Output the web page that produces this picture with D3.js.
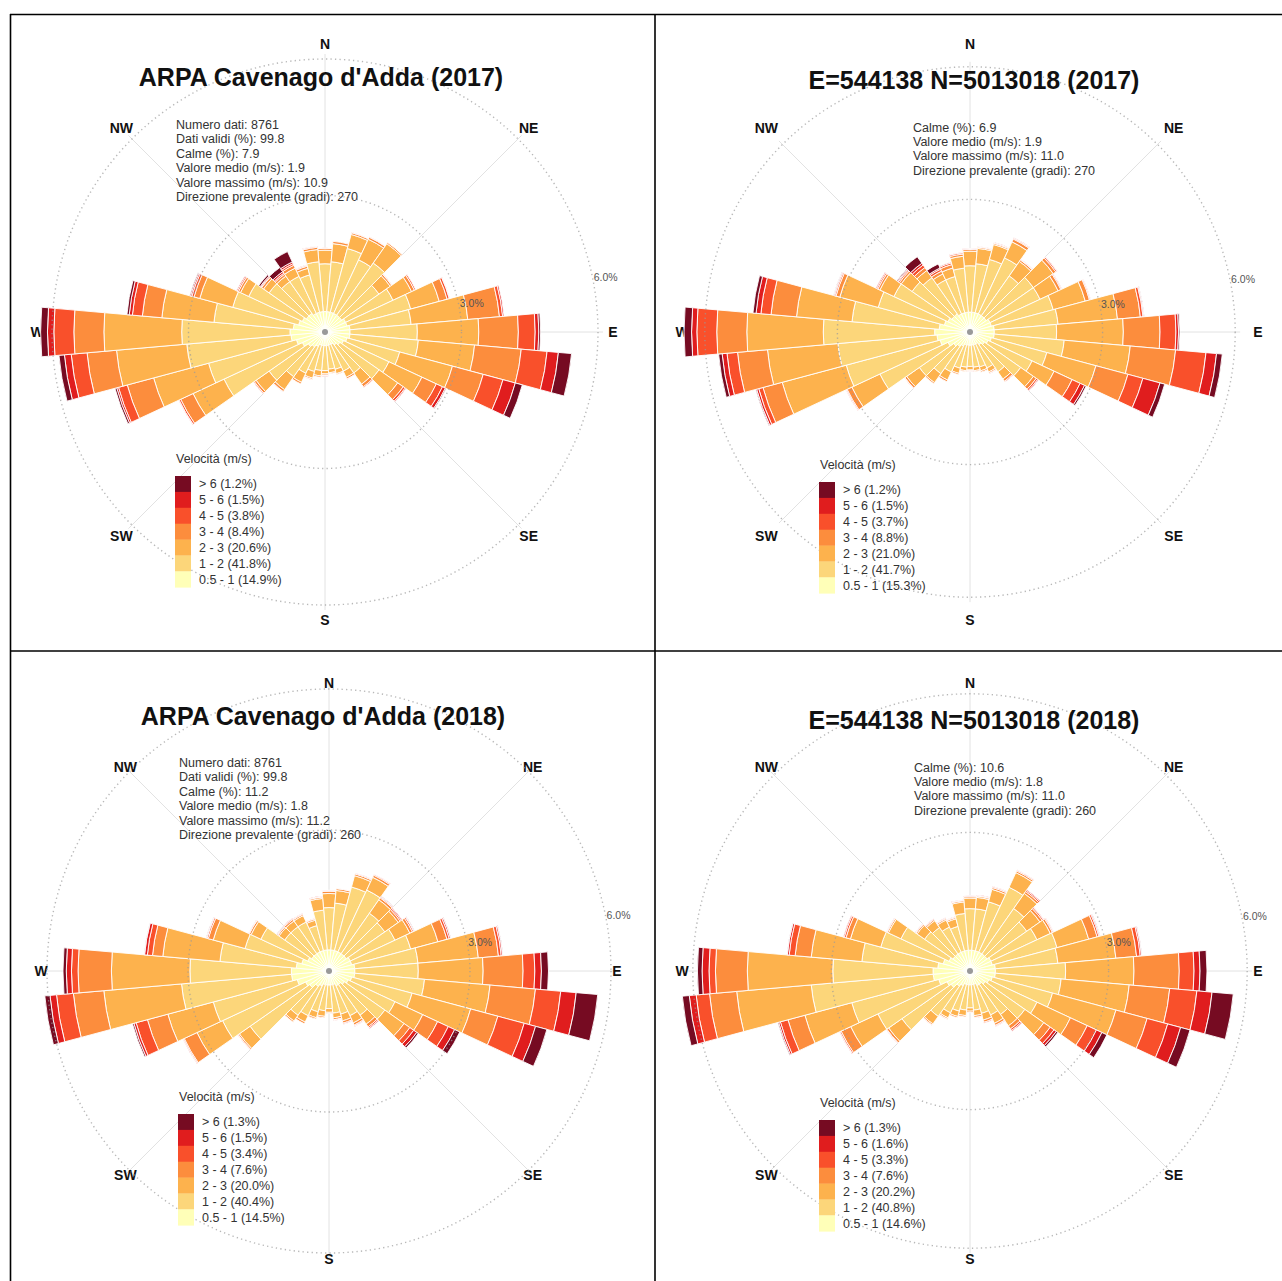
<!DOCTYPE html>
<html><head><meta charset="utf-8">
<script src="https://cdn.jsdelivr.net/npm/d3@7"></script>
<style>
body{margin:0;background:#fff}
svg{display:block}
text{font-family:"Liberation Sans",Arial,Helvetica,sans-serif}
</style>
</head><body><svg id="c" width="1282" height="1281"></svg>
<script>
// ---------------- DATA ----------------
const directions = d3.range(0, 360, 10);           // bin centres (degrees)
const speedClasses = ["0.5 - 1", "1 - 2", "2 - 3", "3 - 4", "4 - 5", "5 - 6", "> 6"];
const compassLabels = ["N", "NE", "E", "SE", "S", "SW", "W", "NW"];
const gridPct = [3, 6];

const titles = [
  "ARPA Cavenago d'Adda (2017)",
  "E=544138 N=5013018 (2017)",
  "ARPA Cavenago d'Adda (2018)",
  "E=544138 N=5013018 (2018)"
];
const legendTitle = "Velocità (m/s)";

const stats2017Arpa = ["Numero dati: 8761", "Dati validi (%): 99.8", "Calme (%): 7.9",
  "Valore medio (m/s): 1.9", "Valore massimo (m/s): 10.9", "Direzione prevalente (gradi): 270"];
const stats2017Grid = ["Calme (%): 6.9", "Valore medio (m/s): 1.9",
  "Valore massimo (m/s): 11.0", "Direzione prevalente (gradi): 270"];
const stats2018Arpa = ["Numero dati: 8761", "Dati validi (%): 99.8", "Calme (%): 11.2",
  "Valore medio (m/s): 1.8", "Valore massimo (m/s): 11.2", "Direzione prevalente (gradi): 260"];
const stats2018Grid = ["Calme (%): 10.6", "Valore medio (m/s): 1.8",
  "Valore massimo (m/s): 11.0", "Direzione prevalente (gradi): 260"];

// class share (%) in order 0.5-1 ... >6
const classPct2017Arpa = [14.9, 41.8, 20.6, 8.4, 3.8, 1.5, 1.2];
const classPct2017Grid = [15.3, 41.7, 21.0, 8.8, 3.7, 1.5, 1.2];
const classPct2018Arpa = [14.5, 40.4, 20.0, 7.6, 3.4, 1.5, 1.3];
const classPct2018Grid = [14.6, 40.8, 20.2, 7.6, 3.3, 1.6, 1.3];

// cumulative frequency (%) at the top of each speed class, one row per direction 0..350
const cum2017Arpa = [
  [0.45,1.5,1.8,1.84,1.85,1.85,1.85],[0.45,1.55,1.95,2.0,2.0,2.0,2.0],
  [0.45,1.9,2.22,2.26,2.27,2.27,2.27],[0.45,1.75,2.25,2.3,2.31,2.31,2.31],
  [0.45,1.85,2.37,2.4,2.4,2.4,2.4],[0.45,1.45,1.75,1.79,1.8,1.8,1.8],
  [0.5,1.65,2.1,2.17,2.2,2.2,2.2],[0.5,1.95,2.6,2.78,2.83,2.84,2.84],
  [0.55,1.9,3.15,3.85,3.92,3.95,3.95],[0.55,2.03,3.38,4.25,4.62,4.7,4.74],
  [0.55,2.06,3.3,4.33,4.9,5.15,5.44],[0.5,1.7,2.9,3.6,4.05,4.33,4.49],
  [0.45,1.55,2.35,2.7,2.85,2.92,2.94],[0.4,1.45,1.95,2.1,2.15,2.17,2.17],
  [0.35,1.1,1.4,1.47,1.49,1.49,1.49],[0.3,0.95,1.1,1.14,1.15,1.15,1.15],
  [0.3,0.85,0.95,0.97,0.97,0.97,0.97],[0.3,0.82,0.9,0.92,0.92,0.92,0.92],
  [0.3,0.85,0.92,0.95,0.96,0.97,0.97],[0.3,0.85,0.97,1.0,1.0,1.0,1.0],
  [0.3,0.9,1.05,1.08,1.09,1.09,1.09],[0.35,1.0,1.22,1.26,1.26,1.26,1.26],
  [0.4,1.2,1.55,1.6,1.61,1.61,1.61],[0.45,1.5,1.85,1.9,1.92,1.92,1.92],
  [0.55,2.45,3.2,3.5,3.54,3.55,3.55],[0.65,2.65,3.9,4.5,4.7,4.74,4.78],
  [0.75,3.05,4.6,5.25,5.6,5.75,5.87],[0.77,3.15,4.86,5.52,5.96,6.1,6.25],
  [0.7,2.45,3.6,4.03,4.25,4.32,4.37],[0.6,2.1,2.85,2.98,3.03,3.06,3.08],
  [0.55,1.85,2.05,2.1,2.13,2.15,2.15],[0.5,1.5,1.65,1.7,1.72,1.74,1.78],
  [0.5,1.35,1.5,1.55,1.58,1.62,1.73],[0.45,1.35,1.55,1.62,1.66,1.7,1.95],
  [0.45,1.3,1.45,1.5,1.52,1.53,1.53],[0.45,1.55,1.82,1.87,1.89,1.9,1.9]
];
const cum2017Grid = [
  [0.45,1.5,1.83,1.87,1.88,1.89,1.89],[0.45,1.55,1.9,1.93,1.94,1.95,1.95],
  [0.45,1.7,2.05,2.08,2.09,2.1,2.1],[0.45,1.85,2.25,2.32,2.34,2.35,2.35],
  [0.45,1.55,1.95,1.99,2.0,2.01,2.01],[0.45,1.75,2.3,2.37,2.4,2.41,2.41],
  [0.5,1.75,2.2,2.27,2.29,2.3,2.3],[0.5,1.95,2.7,2.8,2.82,2.83,2.83],
  [0.55,2.0,3.35,3.87,3.93,3.95,3.96],[0.55,1.96,3.47,4.3,4.66,4.72,4.75],
  [0.55,2.14,3.64,4.67,5.36,5.6,5.73],[0.5,1.8,2.95,3.7,4.05,4.45,4.56],
  [0.45,1.55,2.1,2.55,2.75,2.86,2.9],[0.4,1.4,1.75,1.83,1.87,1.89,1.89],
  [0.35,1.1,1.3,1.36,1.38,1.38,1.38],[0.3,0.9,1.0,1.03,1.04,1.04,1.04],
  [0.3,0.82,0.91,0.94,0.94,0.94,0.94],[0.3,0.8,0.88,0.9,0.9,0.9,0.9],
  [0.3,0.78,0.86,0.88,0.89,0.9,0.9],[0.3,0.8,0.88,0.9,0.9,0.9,0.9],
  [0.3,0.85,0.97,1.0,1.0,1.0,1.0],[0.35,1.0,1.2,1.24,1.24,1.24,1.24],
  [0.4,1.15,1.4,1.43,1.43,1.43,1.43],[0.45,1.4,1.75,1.8,1.81,1.81,1.81],
  [0.55,2.25,2.95,3.07,3.09,3.1,3.1],[0.7,2.9,4.4,4.85,4.95,5.0,5.02],
  [0.75,3.0,4.6,5.28,5.52,5.63,5.71],[0.8,3.32,5.05,5.73,6.18,6.3,6.47],
  [0.7,2.68,3.94,4.52,4.75,4.86,4.93],[0.6,2.15,3.05,3.14,3.17,3.19,3.2],
  [0.55,1.9,2.25,2.3,2.33,2.35,2.35],[0.5,1.6,1.9,1.95,1.98,2.0,2.02],
  [0.5,1.5,1.7,1.78,1.85,1.9,2.08],[0.45,1.3,1.45,1.52,1.57,1.6,1.7],
  [0.45,1.3,1.5,1.58,1.62,1.64,1.64],[0.45,1.45,1.72,1.77,1.8,1.81,1.81]
];
const cum2018Arpa = [
  [0.45,1.35,1.65,1.7,1.71,1.72,1.72],[0.45,1.45,1.72,1.76,1.77,1.77,1.77],
  [0.45,1.85,2.1,2.14,2.15,2.16,2.16],[0.45,1.9,2.2,2.25,2.27,2.28,2.28],
  [0.45,1.5,1.85,1.9,1.92,1.93,1.94],[0.45,1.45,1.8,1.85,1.88,1.9,1.9],
  [0.5,1.55,1.9,1.96,1.99,2.0,2.01],[0.5,1.8,2.4,2.6,2.65,2.68,2.69],
  [0.55,1.9,3.19,3.62,3.68,3.71,3.72],[0.55,1.9,3.28,4.13,4.38,4.52,4.67],
  [0.55,2.04,3.44,4.41,4.95,5.28,5.74],[0.5,1.83,3.12,3.72,4.3,4.55,4.8],
  [0.45,1.55,2.2,2.55,2.8,2.95,3.07],[0.4,1.45,1.95,2.1,2.2,2.28,2.32],
  [0.35,1.15,1.38,1.45,1.48,1.5,1.5],[0.35,1.05,1.22,1.27,1.29,1.3,1.3],
  [0.3,0.95,1.1,1.15,1.17,1.18,1.18],[0.3,0.9,1.0,1.04,1.05,1.06,1.06],
  [0.3,0.8,0.88,0.9,0.9,0.9,0.9],[0.3,0.85,0.97,1.0,1.0,1.0,1.0],
  [0.3,0.9,1.03,1.06,1.06,1.06,1.06],[0.35,1.05,1.2,1.24,1.24,1.24,1.24],
  [0.4,1.15,1.3,1.33,1.33,1.33,1.33],[0.5,2.05,2.33,2.36,2.37,2.37,2.37],
  [0.55,2.5,3.1,3.4,3.42,3.43,3.43],[0.7,2.55,3.55,4.0,4.25,4.3,4.33],
  [0.8,3.15,4.81,5.46,5.82,5.96,6.07],[0.8,2.96,4.63,5.34,5.48,5.59,5.66],
  [0.7,2.33,3.55,3.77,3.88,3.94,3.95],[0.6,1.85,2.55,2.66,2.69,2.7,2.71],
  [0.5,1.6,1.83,1.87,1.88,1.89,1.89],[0.45,1.15,1.3,1.33,1.34,1.35,1.36],
  [0.45,1.15,1.3,1.34,1.36,1.37,1.37],[0.45,1.15,1.3,1.33,1.34,1.35,1.35],
  [0.45,1.0,1.12,1.15,1.16,1.16,1.16],[0.45,1.3,1.55,1.58,1.59,1.6,1.6]
];
const cum2018Grid = [
  [0.45,1.35,1.58,1.61,1.62,1.63,1.63],[0.45,1.35,1.6,1.63,1.64,1.65,1.65],
  [0.45,1.55,1.83,1.87,1.89,1.9,1.9],[0.45,2.0,2.35,2.39,2.41,2.42,2.42],
  [0.45,1.65,2.05,2.1,2.13,2.15,2.15],[0.45,1.5,1.85,1.91,1.94,1.95,1.95],
  [0.5,1.6,1.92,1.97,1.99,2.0,2.0],[0.5,1.95,2.66,2.85,2.89,2.91,2.92],
  [0.55,1.91,3.17,3.62,3.7,3.73,3.74],[0.55,2.07,3.55,4.53,4.85,4.98,5.13],
  [0.55,1.98,3.46,4.34,4.93,5.26,5.72],[0.5,1.85,3.27,3.97,4.43,4.72,4.93],
  [0.45,1.6,2.4,2.8,3.02,3.15,3.27],[0.4,1.45,1.95,2.12,2.22,2.28,2.32],
  [0.35,1.15,1.45,1.53,1.57,1.59,1.59],[0.35,1.05,1.25,1.3,1.32,1.33,1.33],
  [0.3,0.95,1.1,1.15,1.17,1.17,1.17],[0.3,0.85,0.97,1.01,1.02,1.02,1.02],
  [0.3,0.8,0.87,0.9,0.9,0.9,0.9],[0.3,0.85,0.97,1.0,1.0,1.0,1.0],
  [0.3,0.9,1.02,1.05,1.05,1.05,1.05],[0.35,1.0,1.12,1.15,1.16,1.16,1.16],
  [0.4,1.2,1.4,1.43,1.44,1.44,1.44],[0.5,1.8,2.15,2.2,2.21,2.22,2.22],
  [0.55,2.2,2.85,3.08,3.11,3.12,3.12],[0.7,2.65,3.7,4.08,4.25,4.29,4.31],
  [0.8,3.45,5.07,5.66,5.95,6.1,6.25],[0.8,2.97,4.82,5.51,5.65,5.8,5.9],
  [0.7,2.35,3.45,3.8,3.93,3.97,3.98],[0.6,2.0,2.68,2.78,2.82,2.84,2.84],
  [0.5,1.65,1.95,1.98,1.99,2.0,2.0],[0.45,1.2,1.4,1.43,1.44,1.45,1.45],
  [0.45,1.15,1.33,1.36,1.37,1.38,1.38],[0.45,1.05,1.22,1.25,1.26,1.27,1.27],
  [0.45,1.0,1.17,1.2,1.21,1.22,1.22],[0.45,1.25,1.5,1.53,1.54,1.55,1.55]
];

// ---------------- STYLE / LAYOUT ----------------
const classColors = ["#ffffb8", "#fcd67a", "#fdb24d", "#fc8d3d", "#f9502b", "#e01d1e", "#760b22"];

const layout = [
  {cx: 325, cy: 332, pxPerPct: 45.5, titleX: 321, titleY: 86, statsX: 176, statsY: 129, legX: 175, legY: 476},
  {cx: 970, cy: 332, pxPerPct: 44.2, titleX: 974, titleY: 89, statsX: 913, statsY: 131.5, legX: 819, legY: 482},
  {cx: 329, cy: 971, pxPerPct: 47.0, titleX: 323, titleY: 725, statsX: 179, statsY: 767, legX: 178, legY: 1114},
  {cx: 970, cy: 971, pxPerPct: 46.2, titleX: 974, titleY: 729, statsX: 914, statsY: 771.5, legX: 819, legY: 1120}
];
const panelData = [
  {title: titles[0], stats: stats2017Arpa, pct: classPct2017Arpa, cum: cum2017Arpa},
  {title: titles[1], stats: stats2017Grid, pct: classPct2017Grid, cum: cum2017Grid},
  {title: titles[2], stats: stats2018Arpa, pct: classPct2018Arpa, cum: cum2018Arpa},
  {title: titles[3], stats: stats2018Grid, pct: classPct2018Grid, cum: cum2018Grid}
];

const svg = d3.select("#c");
svg.append("rect").attr("width", 1282).attr("height", 1281).attr("fill", "#fff");

// table borders
const borders = svg.append("g").attr("stroke", "#000").attr("stroke-width", 1.6);
borders.append("line").attr("x1", 10).attr("x2", 1282).attr("y1", 14.5).attr("y2", 14.5);
borders.append("line").attr("x1", 10).attr("x2", 1282).attr("y1", 651).attr("y2", 651);
borders.append("line").attr("x1", 10.5).attr("x2", 10.5).attr("y1", 14).attr("y2", 1281);
borders.append("line").attr("x1", 655).attr("x2", 655).attr("y1", 14).attr("y2", 1281);

const angle = d3.scaleLinear().domain([0, 360]).range([0, 2 * Math.PI]);
const LABEL_R = 288;

panelData.forEach((pd, pi) => {
  const L = layout[pi];
  const g = svg.append("g").attr("transform", `translate(${L.cx},${L.cy})`);
  const r = d3.scaleLinear().domain([0, 6]).range([0, 6 * L.pxPerPct]);
  const polar = (deg, rad) => [rad * Math.sin(angle(deg)), -rad * Math.cos(angle(deg))];

  // radial spokes
  d3.range(0, 360, 45).forEach(a => {
    const [x, y] = polar(a, r(6) + 5);
    g.append("line").attr("x1", 0).attr("y1", 0).attr("x2", x).attr("y2", y)
      .attr("stroke", "#e2e2e2").attr("stroke-width", 1);
  });

  // compass labels (under the bars)
  compassLabels.forEach((lab, i) => {
    const [x, y] = polar(i * 45, LABEL_R);
    g.append("text").attr("x", x).attr("y", y + 5)
      .attr("text-anchor", "middle").attr("font-size", 14).attr("font-weight", "bold")
      .attr("fill", "#111").text(lab);
  });

  // stacked wedges
  const arc = d3.arc();
  const segs = [];
  directions.forEach((d, di) => {
    const row = pd.cum[di];
    row.forEach((top, k) => {
      const base = k === 0 ? 0 : row[k - 1];
      if (top - base > 0.001) segs.push({dir: d, k, base, top});
    });
  });
  g.append("g").selectAll("path").data(segs).join("path")
    .attr("d", s => arc({innerRadius: r(s.base), outerRadius: r(s.top),
      startAngle: angle(s.dir - 5), endAngle: angle(s.dir + 5)}))
    .attr("fill", s => classColors[s.k])
    .attr("stroke", "#fff").attr("stroke-width", 0.9).attr("stroke-linejoin", "round");

  // dotted grid circles + labels (on top)
  gridPct.forEach(p => {
    g.append("circle").attr("r", r(p)).attr("fill", "none")
      .attr("stroke", "#9a9a9a").attr("stroke-opacity", 0.7)
      .attr("stroke-width", 1.4).attr("stroke-dasharray", "1.3,3.2");
    const [x, y] = polar(79, r(p) + 13);
    g.append("text").attr("x", x).attr("y", y + 4).attr("text-anchor", "middle")
      .attr("font-size", 10.5).attr("fill", "#555").text(p.toFixed(1) + "%");
  });

  g.append("circle").attr("r", 3).attr("fill", "#9a9a9a");

  // title
  svg.append("text").attr("x", L.titleX).attr("y", L.titleY).attr("text-anchor", "middle")
    .attr("font-size", 25).attr("font-weight", "bold").attr("fill", "#111").text(pd.title);

  // stats block
  const st = svg.append("g");
  pd.stats.forEach((s, i) => {
    st.append("text").attr("x", L.statsX).attr("y", L.statsY + i * 14.4)
      .attr("font-size", 12.5).attr("fill", "#333").text(s);
  });

  // legend
  const lg = svg.append("g").attr("transform", `translate(${L.legX},${L.legY})`);
  lg.append("text").attr("x", 1).attr("y", -13).attr("font-size", 12.5).attr("fill", "#333").text(legendTitle);
  const step = 15.9;
  const order = d3.range(speedClasses.length - 1, -1, -1); // top = fastest
  const ly = d3.scaleBand().domain(order).range([0, step * order.length]);
  order.forEach(k => {
    lg.append("rect").attr("x", 0).attr("y", ly(k)).attr("width", 16).attr("height", ly.bandwidth() + 0.3)
      .attr("fill", classColors[k]);
    lg.append("text").attr("x", 24).attr("y", ly(k) + ly.bandwidth() / 2 + 4.5)
      .attr("font-size", 12.5).attr("fill", "#333")
      .text(`${speedClasses[k]} (${pd.pct[k].toFixed(1)}%)`);
  });
});
</script>
</body></html>
